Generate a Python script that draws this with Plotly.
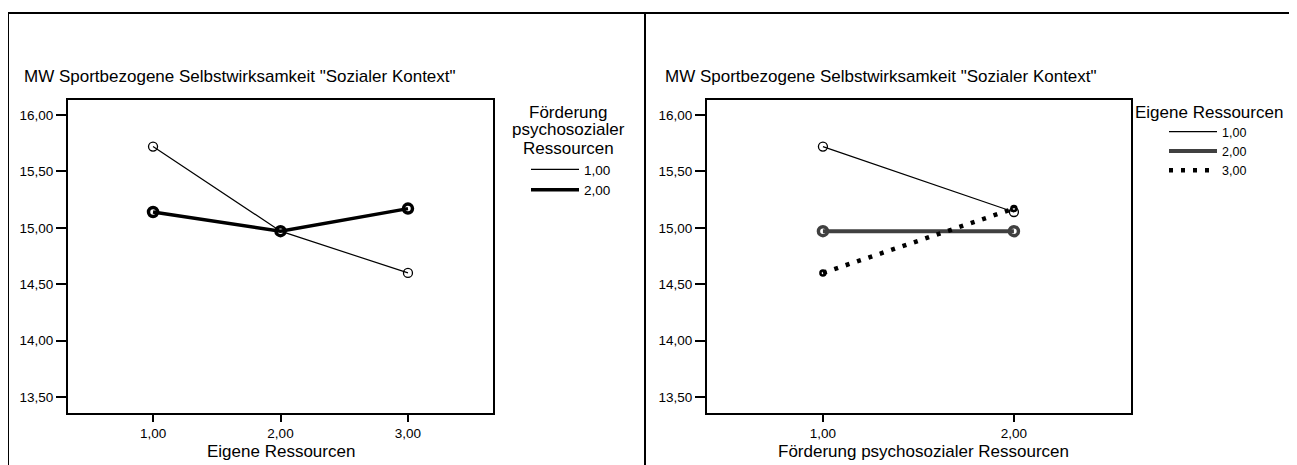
import plotly.graph_objects as go

# ---- data ----
eigene_levels = [1, 2, 3]
foerderung_levels = [1, 2]
series_left_names = ["1,00", "2,00"]          # Förderung psychosozialer Ressourcen
left_f1 = [15.72, 14.97, 14.60]
left_f2 = [15.14, 14.97, 15.17]
series_right_names = ["1,00", "2,00", "3,00"]  # Eigene Ressourcen
right_e1 = [15.72, 15.14]
right_e2 = [14.97, 14.97]
right_e3 = [14.60, 15.17]
y_title = 'MW Sportbezogene Selbstwirksamkeit "Sozialer Kontext"'
left_legend_title = ["Förderung", "psychosozialer", "Ressourcen"]
right_legend_title = "Eigene Ressourcen"

OFF = 8  # page body margin
W, H = 1297 - OFF, 465 - OFF
FONT = "Liberation Sans, Arial, sans-serif"

def px(x):
    return (x - OFF) / W

def py(y):
    return 1 - (y - OFF) / H

fig = go.Figure()

def add_series(x, y, name, xa, ya, leg, color, width, dash, msym, msize, mlw):
    fig.add_trace(go.Scatter(x=x, y=y, mode="lines", name=name, xaxis=xa, yaxis=ya,
                             legend=leg, line=dict(color=color, width=width, dash=dash)))
    fig.add_trace(go.Scatter(x=x, y=y, mode="markers", showlegend=False, xaxis=xa, yaxis=ya,
                             marker=dict(symbol=msym, size=msize, color=color,
                                         line=dict(color=color, width=mlw))))

add_series(eigene_levels, left_f1, series_left_names[0], "x", "y", "legend", "black", 1.2, "solid", "circle-open", 9, 1.3)
add_series(eigene_levels, left_f2, series_left_names[1], "x", "y", "legend", "black", 3.5, "solid", "circle-open", 9, 3.5)

add_series(foerderung_levels, right_e1, series_right_names[0], "x2", "y2", "legend2", "black", 1.2, "solid", "circle-open", 9, 1.3)
add_series(foerderung_levels, right_e2, series_right_names[1], "x2", "y2", "legend2", "#404040", 4, "solid", "circle-open", 9, 3.5)
add_series(foerderung_levels, right_e3, series_right_names[2], "x2", "y2", "legend2", "black", 4.5, "4px,8px", "circle-open", 5, 2.5)

ydom = [py(413), py(100)]
axis_common = dict(showgrid=False, zeroline=False, showline=True, linecolor="black", linewidth=2,
                   mirror=True, ticks="outside", tickcolor="black", tickwidth=2,
                   tickfont=dict(family=FONT, size=13.5, color="black"))
yaxis_common = dict(axis_common, range=[13.358, 16.133], dtick=0.5, tick0=13.5, tickformat=".2f",
                    ticklen=10, domain=ydom)
xaxis_common = dict(axis_common, tickformat=".2f", dtick=1, tick0=1, ticklen=7)

fig.update_layout(
    width=W, height=H,
    margin=dict(l=0, r=0, t=0, b=0),
    paper_bgcolor="white", plot_bgcolor="white",
    separators=",.",
    font=dict(family=FONT, color="black"),
    xaxis=dict(xaxis_common, domain=[px(68), px(493)], range=[0.333, 3.667], anchor="y"),
    yaxis=dict(yaxis_common, anchor="x"),
    xaxis2=dict(xaxis_common, domain=[px(707), px(1131)], range=[0.393, 2.613], anchor="y2"),
    yaxis2=dict(yaxis_common, anchor="x2"),
    legend=dict(x=px(526), y=py(154), xanchor="left", yanchor="top", bgcolor="rgba(0,0,0,0)",
                itemwidth=48, font=dict(family=FONT, size=13.5, color="black"), tracegroupgap=0),
    legend2=dict(x=px(1164), y=py(117), xanchor="left", yanchor="top", bgcolor="rgba(0,0,0,0)",
                 itemwidth=48, font=dict(family=FONT, size=12.5, color="black"), tracegroupgap=0),
    showlegend=True,
)

ann = []
ann.append(dict(text=y_title, x=px(22), y=py(77), xref="paper", yref="paper", xanchor="left",
                yanchor="middle", showarrow=False, font=dict(family=FONT, size=17)))
ann.append(dict(text=y_title, x=px(663), y=py(77), xref="paper", yref="paper", xanchor="left",
                yanchor="middle", showarrow=False, font=dict(family=FONT, size=17)))
ann.append(dict(text="Eigene Ressourcen", x=px(281), y=py(451), xref="paper", yref="paper",
                xanchor="center", yanchor="middle", showarrow=False, font=dict(family=FONT, size=17)))
ann.append(dict(text="Förderung psychosozialer Ressourcen", x=px(923), y=py(451), xref="paper", yref="paper",
                xanchor="center", yanchor="middle", showarrow=False, font=dict(family=FONT, size=17)))
for line_text, yy in zip(left_legend_title, [112, 130, 148]):
    ann.append(dict(text=line_text, x=px(568), y=py(yy), xref="paper", yref="paper",
                    xanchor="center", yanchor="middle", showarrow=False,
                    font=dict(family=FONT, size=17)))
ann.append(dict(text=right_legend_title, x=px(1209), y=py(112), xref="paper", yref="paper",
                xanchor="center", yanchor="middle", showarrow=False, font=dict(family=FONT, size=17)))
fig.update_layout(annotations=ann)

# panel borders
border = dict(type="line", xref="paper", yref="paper", line=dict(color="black", width=2))
fig.update_layout(shapes=[
    dict(border, x0=px(7), x1=px(1294), y0=py(13), y1=py(13)),
    dict(border, x0=px(8), x1=px(8), y0=py(13), y1=0),
    dict(border, x0=px(645), x1=px(645), y0=py(13), y1=0),
    dict(border, x0=px(1294), x1=px(1294), y0=py(13), y1=0),
])

fig.write_html("out.html")
